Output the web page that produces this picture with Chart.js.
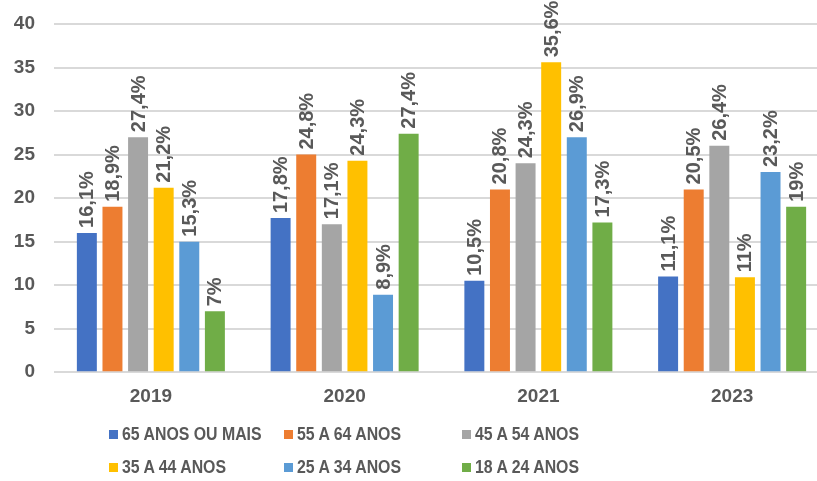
<!DOCTYPE html>
<html>
<head>
<meta charset="utf-8">
<script src="https://cdn.jsdelivr.net/npm/chart.js@4/dist/chart.umd.min.js"></script>
<style>
  html, body { margin: 0; padding: 0; background: #fff; overflow: hidden; width: 817px; height: 481px; }
  #wrap { position: relative; width: 817px; height: 481px; overflow: hidden; }
  canvas { position: absolute; left: 0; top: 0; }
  #legend { position: absolute; left: 0; top: 0; width: 817px; height: 481px; pointer-events: none; }
  .item { position: absolute; display: flex; align-items: center; font-family: "Liberation Sans", Arial, sans-serif; font-weight: bold; font-size: 19px; color: #595959; white-space: nowrap; transform: translateY(-50%); }
  .box { width: 9px; height: 9px; margin-right: 4px; flex: none; }
  .txt { display: inline-block; transform: scaleX(0.835); transform-origin: left center; }
</style>
</head>
<body>
<div id="wrap">
  <canvas id="c" width="831" height="481"></canvas>
  <div id="legend"></div>
</div>
<script>
// ---- data ----
const categories = ["2019", "2020", "2021", "2023"];
const seriesNames = ["65 ANOS OU MAIS", "55 A 64 ANOS", "45 A 54 ANOS", "35 A 44 ANOS", "25 A 34 ANOS", "18 A 24 ANOS"];
// bar heights as drawn
const bars65 = [16, 17.7, 10.5, 11];
const bars55 = [19, 25, 21, 21];
const bars45 = [27, 17, 24, 26];
const bars35 = [21.2, 24.3, 35.6, 10.9];
const bars25 = [15, 8.9, 27, 23];
const bars18 = [7, 27.4, 17.2, 19];
// printed label values
const labels65 = [16.1, 17.8, 10.5, 11.1];
const labels55 = [18.9, 24.8, 20.8, 20.5];
const labels45 = [27.4, 17.1, 24.3, 26.4];
const labels35 = [21.2, 24.3, 35.6, 11];
const labels25 = [15.3, 8.9, 26.9, 23.2];
const labels18 = [7, 27.4, 17.3, 19];
const yTicks = [0, 5, 10, 15, 20, 25, 30, 35, 40];

const colors = ["#4472C4", "#ED7D31", "#A5A5A5", "#FFC000", "#5B9BD5", "#70AD47"];
const barSets = [bars65, bars55, bars45, bars35, bars25, bars18];
const labelSets = [labels65, labels55, labels45, labels35, labels25, labels18];

function fmt(v) { return String(v).replace('.', ',') + '%'; }

const FONT = '"Liberation Sans", Arial, sans-serif';
const GREY = '#595959';

const dataLabelPlugin = {
  id: 'dl',
  afterDatasetsDraw(chart) {
    const ctx = chart.ctx;
    ctx.save();
    ctx.font = 'bold 20px ' + FONT;
    ctx.fillStyle = GREY;
    ctx.textAlign = 'left';
    ctx.textBaseline = 'middle';
    chart.data.datasets.forEach((ds, i) => {
      const meta = chart.getDatasetMeta(i);
      meta.data.forEach((bar, j) => {
        ctx.save();
        ctx.translate(bar.x + 1, bar.y - 5);
        ctx.rotate(-Math.PI / 2);
        ctx.fillText(fmt(labelSets[i][j]), 0, 0);
        ctx.restore();
      });
    });
    ctx.restore();
  }
};

const chart = new Chart(document.getElementById('c'), {
  type: 'bar',
  data: {
    labels: categories,
    datasets: seriesNames.map((n, i) => ({
      label: n,
      data: barSets[i],
      backgroundColor: colors[i],
      borderWidth: 0,
      categoryPercentage: 0.793,
      barPercentage: 0.78
    }))
  },
  options: {
    responsive: false,
    animation: false,
    devicePixelRatio: 1,
    layout: { padding: { left: 13, right: 2, top: 24, bottom: 60 } },
    plugins: { legend: { display: false }, tooltip: { enabled: false } },
    scales: {
      x: {
        grid: { display: false, drawTicks: false },
        border: { display: false },
        ticks: { color: GREY, font: { family: FONT, weight: 'bold', size: 19 }, padding: 13 }
      },
      y: {
        min: 0, max: 40,
        afterBuildTicks(axis) { axis.ticks = yTicks.map(v => ({ value: v })); },
        afterFit(axis) { axis.width = 41; axis.paddingTop = 0; axis.paddingBottom = 0; },
        grid: { color: '#D9D9D9', lineWidth: 2, drawTicks: false, tickLength: 0 },
        border: { display: false },
        ticks: { color: GREY, font: { family: FONT, weight: 'bold', size: 19 }, padding: 19 }
      }
    }
  },
  plugins: [dataLabelPlugin]
});

// legend
const lg = document.getElementById('legend');
const colX = [109, 284, 462];
const rowY = [434, 467];
seriesNames.forEach((n, i) => {
  const d = document.createElement('div');
  d.className = 'item';
  d.style.left = colX[i % 3] + 'px';
  d.style.top = rowY[Math.floor(i / 3)] + 'px';
  const b = document.createElement('span');
  b.className = 'box';
  b.style.background = colors[i];
  d.appendChild(b);
  const t = document.createElement('span');
  t.className = 'txt';
  t.textContent = n;
  d.appendChild(t);
  lg.appendChild(d);
});
</script>
</body>
</html>
